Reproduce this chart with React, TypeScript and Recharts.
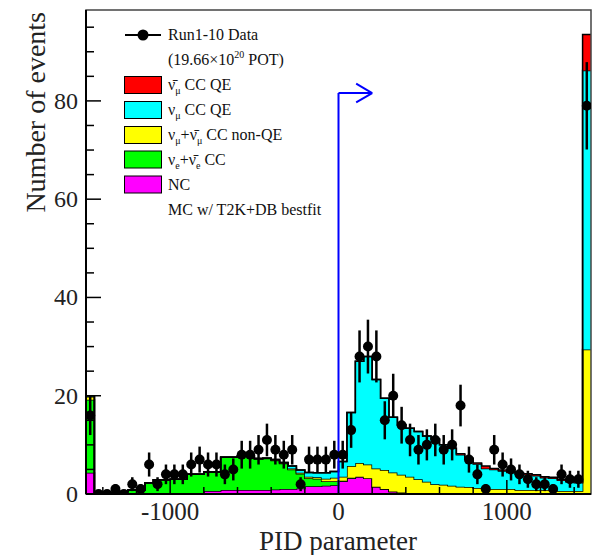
import { Area, ComposedChart, ErrorBar, Label, Legend, ReferenceArea, ReferenceLine, Scatter, XAxis, YAxis } from "recharts";

const FONT = '"Liberation Serif", "Times New Roman", serif';

// binning: 60 bins of 50 from -1500 to 1500
const X_MIN = -1500;
const X_MAX = 1500;
const BIN_WIDTH = 50;
const Y_MAX = 98.5;

// observed data, events per bin
const dataCounts = [
  16, 0, 0, 1, 0, 2, 1, 6, 2, 4,
  4, 4, 6, 7, 6, 6, 4, 5, 8, 8,
  9, 11, 9, 8, 9, 2, 7, 7, 7, 8,
  8, 13, 28, 30, 28, 15, 20, 14, 11, 9,
  10, 11, 9, 10, 18, 7, 4, 1, 9, 6,
  5, 4, 3, 2, 2, 1, 4, 3, 3, 79,
];

// MC components (stacked, bottom to top)
const ncMC = [
  4.3, 0, 0, 0, 0, 0, 0, 0.1, 0.1, 0.1,
  0.1, 0.1, 0.2, 0.2, 0.6, 0.6, 0.8, 0.8, 0.8, 0.8,
  0.8, 0.8, 0.9, 1.0, 1.0, 1.1, 1.6, 1.6, 1.7, 1.8,
  2.6, 3.2, 3.5, 3.2, 1.5, 1.0, 0.5, 0.3, 0.2, 0.1,
  0.1, 0, 0, 0, 0, 0, 0, 0, 0, 0,
  0, 0, 0, 0, 0, 0, 0, 0, 0, 0,
];
const nueCC = [
  14.9, 0.1, 0.2, 0.3, 0.5, 0.8, 0.8, 2.2, 2.8, 2.8,
  2.9, 2.9, 3.8, 3.8, 3.9, 3.9, 6.7, 6.7, 7.0, 7.0,
  6.3, 6.4, 5.9, 5.2, 4.0, 3.0, 1.6, 1.5, 0.9, 0.8,
  0.1, 0.1, 0, 0, 0, 0, 0, 0, 0, 0,
  0, 0, 0, 0, 0, 0, 0, 0, 0, 0,
  0, 0, 0, 0, 0, 0, 0, 0, 0, 0,
];
const numuNonQE = [
  0.6, 0, 0, 0, 0, 0, 0, 0, 0, 0,
  0, 0, 0, 0, 0, 0, 0, 0, 0, 0,
  0.1, 0.1, 0.1, 0.1, 0.2, 0.2, 0.3, 0.3, 0.5, 0.7,
  0.8, 2.4, 2.8, 2.8, 3.7, 3.9, 3.9, 3.6, 3.3, 2.9,
  2.4, 2.0, 1.9, 1.7, 1.5, 1.4, 1.2, 1.0, 1.0, 1.0,
  1.0, 0.8, 0.8, 0.8, 0.8, 0.8, 0.6, 0.6, 0.6, 29.4,
];
const numuQE = [
  0.2, 0, 0, 0, 0, 0, 0, 0, 0, 0,
  0, 0, 0, 0, 0, 0, 0, 0, 0, 0,
  0, 0, 0.1, 0.1, 0.5, 0.6, 0.9, 0.9, 1.2, 1.3,
  3.1, 10.9, 20.7, 22.0, 18.1, 14.6, 11.2, 10.2, 9.9, 9.7,
  9.3, 9.2, 8.1, 7.6, 6.5, 5.7, 4.9, 4.2, 4.0, 3.7,
  3.4, 3.2, 3.1, 2.9, 2.5, 2.4, 2.2, 1.9, 1.7, 56.8,
];
const numubarQE = [
  0, 0, 0, 0, 0, 0, 0, 0, 0, 0,
  0, 0, 0, 0, 0, 0, 0, 0, 0, 0,
  0, 0, 0, 0, 0, 0, 0, 0, 0, 0,
  0, 0, 0, 0, 0, 0, 0, 0, 0, 0,
  0, 0, 0, 0, 0.2, 0.2, 0.2, 0.5, 0.2, 0.2,
  0.2, 0.2, 0.2, 0.2, 0.2, 0.2, 0.2, 0.2, 0.2, 7.3,
];

const xTicks = [-1400, -1200, -1000, -800, -600, -400, -200, 0, 200, 400, 600, 800, 1000, 1200, 1400];
const yTicks = [0, 5, 10, 15, 20, 25, 30, 35, 40, 45, 50, 55, 60, 65, 70, 75, 80, 85, 90, 95];

// cut arrow
const CUT = 0;
const ARROW_Y = 81.6;
const ARROW_END = 200;

const layers = [
  { key: "nc", values: ncMC, color: "#ff00ff" },
  { key: "nue", values: nueCC, color: "#00ff00" },
  { key: "nonqe", values: numuNonQE, color: "#ffff00" },
  { key: "qe", values: numuQE, color: "#00ffff" },
  { key: "barqe", values: numubarQE, color: "#ff0000" },
];

// step rows at bin low edges, plus closing edge
const nBins = dataCounts.length;
const histRows = Array.from({ length: nBins + 1 }, (_, i) => {
  const j = Math.min(i, nBins - 1);
  const row: Record<string, number> = { x: X_MIN + i * BIN_WIDTH };
  layers.forEach((l) => (row[l.key] = l.values[j]));
  return row;
});

const points = dataCounts.map((n, i) => ({
  x: X_MIN + (i + 0.5) * BIN_WIDTH,
  y: n,
  err: Math.sqrt(n),
}));

type Part = [string, "" | "sub" | "sup"];
const legendRows: { y: number; color?: string; parts: Part[] }[] = [
  { y: 60, parts: [["(19.66×10", ""], ["20", "sup"], [" POT)", ""]] },
  { y: 85, color: "#ff0000", parts: [["ν\u0304", ""], ["μ", "sub"], [" CC QE", ""]] },
  { y: 110, color: "#00ffff", parts: [["ν", ""], ["μ", "sub"], [" CC QE", ""]] },
  { y: 135, color: "#ffff00", parts: [["ν", ""], ["μ", "sub"], ["+ν\u0304", ""], ["μ", "sub"], [" CC non-QE", ""]] },
  { y: 159.5, color: "#00ff00", parts: [["ν", ""], ["e", "sub"], ["+ν\u0304", ""], ["e", "sub"], [" CC", ""]] },
  { y: 184.5, color: "#ff00ff", parts: [["NC", ""]] },
  { y: 210, parts: [["MC w/ T2K+DB bestfit", ""]] },
];

function RichText({ x, y, parts }: { x: number; y: number; parts: Part[] }) {
  let shift = 0;
  return (
    <text x={x} y={y} fontSize={16} fontFamily={FONT} fill="#111">
      {parts.map(([t, kind], i) => {
        const target = kind === "sub" ? 4 : kind === "sup" ? -7 : 0;
        const dy = target - shift;
        shift = target;
        return (
          <tspan key={i} dy={dy} fontSize={kind ? 10 : 16}>
            {t}
          </tspan>
        );
      })}
    </text>
  );
}

function LegendBox() {
  return (
    <svg width={596} height={230} style={{ display: "block" }}>
      <line x1={125} x2={161} y1={35} y2={35} stroke="#000" strokeWidth={2} />
      <circle cx={143} cy={35} r={5.5} fill="#000" />
      <text x={168} y={40} fontSize={16} fontFamily={FONT} fill="#111">Run1-10 Data</text>
      {legendRows.map((r, i) => (
        <g key={i}>
          {r.color && <rect x={124.5} y={r.y - 8.5} width={37} height={17} fill={r.color} stroke="#000" strokeWidth={1} />}
          <RichText x={168} y={r.y + 5} parts={r.parts} />
        </g>
      ))}
    </svg>
  );
}

function YTick({ x, y, payload }: any) {
  const major = payload.value % 20 === 0;
  return (
    <g>
      <line x1={x} x2={x + (major ? 15 : 8)} y1={y} y2={y} stroke="#000" strokeWidth={1.5} />
      {major && (
        <text x={x - 8} y={y + 8} textAnchor="end" fontSize={24} fontFamily={FONT} fill="#222">
          {payload.value}
        </text>
      )}
    </g>
  );
}

function XTick({ x, y, payload }: any) {
  const major = payload.value % 1000 === 0;
  return (
    <g>
      <line x1={x} x2={x} y1={y} y2={y - (major ? 14 : 7)} stroke="#000" strokeWidth={1.5} />
      {major && (
        <text x={x} y={y + 26} textAnchor="middle" fontSize={25} fontFamily={FONT} fill="#222">
          {payload.value}
        </text>
      )}
    </g>
  );
}

export default function App() {
  return (
    <div style={{ position: "absolute", left: 0, top: 0, width: 596, height: 555, background: "#fff" }}>
      <ComposedChart width={596} height={555} data={histRows} margin={{ top: 10, right: 5, bottom: 0, left: 0 }}>
        <XAxis
          dataKey="x"
          type="number"
          domain={[X_MIN, X_MAX]}
          allowDataOverflow
          ticks={xTicks}
          interval={0}
          tick={<XTick />}
          tickLine={false}
          tickSize={0}
          tickMargin={0}
          height={61}
          axisLine={{ stroke: "#000", strokeWidth: 2 }}
        >
          <Label
            content={() => (
              <text x={338} y={550} textAnchor="middle" fontSize={27} fontFamily={FONT} fill="#222">
                PID parameter
              </text>
            )}
          />
        </XAxis>
        <YAxis
          type="number"
          domain={[0, Y_MAX]}
          allowDataOverflow
          ticks={yTicks}
          interval={0}
          tick={<YTick />}
          tickLine={false}
          tickSize={0}
          tickMargin={0}
          width={86}
          axisLine={{ stroke: "#000", strokeWidth: 2 }}
        >
          <Label
            content={() => (
              <text transform="translate(45,12) rotate(-90)" textAnchor="end" fontSize={28} fontFamily={FONT} fill="#222">
                Number of events
              </text>
            )}
          />
        </YAxis>
        {layers.map((l) => (
          <Area
            key={l.key}
            dataKey={l.key}
            stackId="mc"
            type="stepAfter"
            fill={l.color}
            fillOpacity={1}
            stroke="#000"
            strokeWidth={1.5}
            dot={false}
            activeDot={false}
            isAnimationActive={false}
          />
        ))}
        <Scatter
          data={points}
          dataKey="y"
          isAnimationActive={false}
          shape={(p: any) => <circle cx={p.cx} cy={p.cy} r={5} fill="#000" />}
        >
          <ErrorBar dataKey="err" direction="y" width={0} stroke="#000" strokeWidth={2.5} />
        </Scatter>
        <ReferenceLine segment={[{ x: CUT, y: 0 }, { x: CUT, y: ARROW_Y }]} stroke="#0000ff" strokeWidth={2} />
        <ReferenceLine segment={[{ x: CUT, y: ARROW_Y }, { x: ARROW_END, y: ARROW_Y }]} stroke="#0000ff" strokeWidth={2} />
        <ReferenceLine segment={[{ x: 105, y: ARROW_Y + 1.9 }, { x: ARROW_END, y: ARROW_Y }]} stroke="#0000ff" strokeWidth={2} />
        <ReferenceLine segment={[{ x: 105, y: ARROW_Y - 1.9 }, { x: ARROW_END, y: ARROW_Y }]} stroke="#0000ff" strokeWidth={2} />
        <ReferenceArea x1={X_MIN} x2={X_MAX} y1={0} y2={Y_MAX} fill="none" stroke="#444" strokeWidth={1.5} />
        <Legend
          layout="vertical"
          align="center"
          verticalAlign="middle"
          wrapperStyle={{ left: 0, top: 0, width: 596, height: 230, pointerEvents: "none" }}
          content={() => <LegendBox />}
        />
      </ComposedChart>
    </div>
  );
}
